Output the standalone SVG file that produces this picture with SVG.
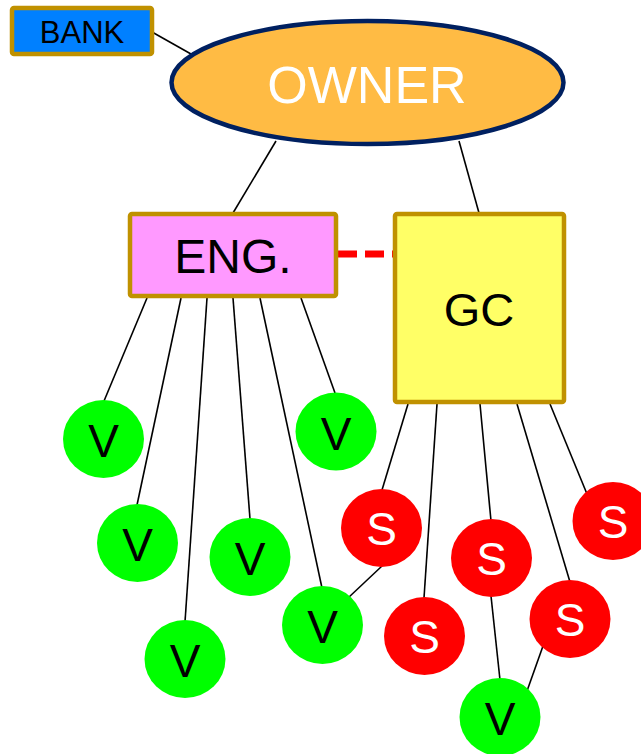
<svg xmlns="http://www.w3.org/2000/svg" width="641" height="754" viewBox="0 0 641 754">
  <style>
    .box { stroke: #C09100; stroke-width: 4.5; stroke-linejoin: round; }
    .link { stroke: #000; stroke-width: 1.6; fill: none; }
    .v ellipse { fill: #00FF00; }
    .s ellipse { fill: #FF0000; }
    text { font-family: "Liberation Sans", Arial, sans-serif; text-anchor: middle; }
    .v text { fill: #000; font-size: 46px; }
    .s text { fill: #fff; font-size: 46px; }
  </style>

  <!-- connectors -->
  <g id="connectors">
    <line class="link" x1="152" y1="32" x2="191" y2="54"/>
    <line class="link" x1="276" y1="141" x2="233" y2="213"/>
    <line class="link" x1="459" y1="141" x2="479" y2="213"/>
    <line x1="338" y1="254" x2="394" y2="254" stroke="#FF0000" stroke-width="7" stroke-dasharray="19 8"/>
    <!-- engineer to vendors -->
    <line class="link" x1="147" y1="298" x2="104" y2="401"/>
    <line class="link" x1="181" y1="298" x2="137" y2="505"/>
    <line class="link" x1="207" y1="298" x2="185" y2="622"/>
    <line class="link" x1="233" y1="298" x2="250" y2="519"/>
    <line class="link" x1="260" y1="298" x2="322" y2="588"/>
    <line class="link" x1="301" y1="298" x2="335" y2="393"/>
    <!-- contractor to subs -->
    <line class="link" x1="408" y1="404" x2="382" y2="490"/>
    <line class="link" x1="437" y1="404" x2="424" y2="598"/>
    <line class="link" x1="480" y1="404" x2="491" y2="521"/>
    <line class="link" x1="517" y1="404" x2="570" y2="582"/>
    <line class="link" x1="550" y1="404" x2="587" y2="494"/>
    <!-- subs to vendors -->
    <line class="link" x1="382" y1="566" x2="348" y2="598"/>
    <line class="link" x1="491" y1="596" x2="500" y2="680"/>
    <line class="link" x1="543" y1="646" x2="527" y2="691"/>
  </g>

  <g id="bank">
    <rect class="box" x="12" y="8" width="140" height="46" rx="2" fill="#0080FF"/>
    <text x="82" y="43" font-size="31" fill="#000">BANK</text>
  </g>

  <g id="owner">
    <ellipse cx="367.5" cy="82.5" rx="196" ry="61.5" fill="#FFBB44" stroke="#002060" stroke-width="4.5"/>
    <text x="367" y="103" font-size="52" fill="#fff">OWNER</text>
  </g>

  <g id="eng">
    <rect class="box" x="130" y="214" width="206" height="82" rx="2" fill="#FF99FF"/>
    <text x="233" y="273" font-size="48" fill="#000">ENG.</text>
  </g>

  <g id="gc">
    <rect class="box" x="395" y="214" width="169" height="188" rx="2" fill="#FFFF66"/>
    <text x="479" y="326" font-size="47" fill="#000">GC</text>
  </g>

  <g id="v1" class="v"><ellipse cx="103.5" cy="439" rx="40.5" ry="39"/><text x="103.5" y="457">V</text></g>
  <g id="v2" class="v"><ellipse cx="137.5" cy="543" rx="40.5" ry="39"/><text x="137.5" y="561">V</text></g>
  <g id="v3" class="v"><ellipse cx="185" cy="659" rx="40.5" ry="39"/><text x="185" y="677">V</text></g>
  <g id="v4" class="v"><ellipse cx="250" cy="557" rx="40.5" ry="39"/><text x="250" y="575">V</text></g>
  <g id="v5" class="v"><ellipse cx="322.5" cy="625" rx="40.5" ry="39"/><text x="322.5" y="643">V</text></g>
  <g id="v6" class="v"><ellipse cx="336" cy="431.5" rx="40.5" ry="39"/><text x="336" y="449.5">V</text></g>
  <g id="v7" class="v"><ellipse cx="500" cy="717" rx="40.5" ry="39"/><text x="500" y="735">V</text></g>

  <g id="s1" class="s"><ellipse cx="381.5" cy="528" rx="40.5" ry="39"/><text x="381.5" y="545">S</text></g>
  <g id="s2" class="s"><ellipse cx="424.5" cy="636" rx="40.5" ry="39"/><text x="424.5" y="653">S</text></g>
  <g id="s3" class="s"><ellipse cx="491.5" cy="558" rx="40.5" ry="39"/><text x="491.5" y="575">S</text></g>
  <g id="s4" class="s"><ellipse cx="570" cy="619" rx="40.5" ry="39"/><text x="570" y="636">S</text></g>
  <g id="s5" class="s"><ellipse cx="613" cy="521" rx="40.5" ry="39"/><text x="613" y="538">S</text></g>
</svg>
